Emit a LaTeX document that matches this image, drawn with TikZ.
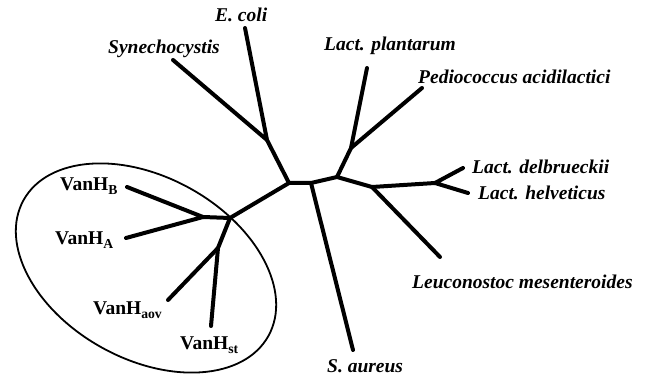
\documentclass[tikz,border=0pt]{standalone}
\usepackage{fontspec}
\setmainfont{Liberation Serif}
\usetikzlibrary{positioning}

\begin{document}
\begin{tikzpicture}[
  x=1pt, y=-1pt,
  branch/.style={line width=4pt, line cap=round, line join=round},
  taxon/.style={font=\fontsize{19.5}{22}\selectfont\bfseries\itshape,
                inner sep=0pt, anchor=base west},
  van/.style={font=\fontsize{19.5}{22}\selectfont\bfseries,
              inner sep=0pt, anchor=base west},
  group/.style={draw, line width=1.8pt},
]
\useasboundingbox (0,0) rectangle (651,379);

% ---- internal branch points --------------------------------------------
\coordinate (root)  at (289,183);
\coordinate (saur)  at (311,183);
\coordinate (lab)   at (337,177);
\coordinate (leuc)  at (372,187);
\coordinate (lact)  at (435,183);
\coordinate (pedi)  at (351,148);
\coordinate (bact)  at (267,140);
\coordinate (vanH)  at (230,218);
\coordinate (vanBA) at (203,217);
\coordinate (vanAS) at (218,248);

% ---- branch tips ---------------------------------------------------------
\coordinate (ecoli-tip) at (245,28);
\coordinate (syn-tip)   at (173,60);
\coordinate (plan-tip)  at (367,68);
\coordinate (ped-tip)   at (422,88);
\coordinate (delb-tip)  at (463,168);
\coordinate (helv-tip)  at (468,193);
\coordinate (leuc-tip)  at (440,257);
\coordinate (saur-tip)  at (353,350);
\coordinate (vB-tip)    at (127,187);
\coordinate (vA-tip)    at (126,238);
\coordinate (vaov-tip)  at (168,300);
\coordinate (vst-tip)   at (211,326);

% ---- labels --------------------------------------------------------------
\node[taxon] (ecoli) at (215,22)  {E. coli};
\node[taxon] (syn)   at (108,54)  {Synechocystis};
\node[taxon] (plan)  at (324,51)  {Lact. plantarum};
\node[taxon] (ped)   at (418,84)  {Pediococcus acidilactici};
\node[taxon] (delb)  at (472,174) {Lact. delbrueckii};
\node[taxon] (helv)  at (478,200) {Lact. helveticus};
\node[taxon] (leu)   at (412,289) {Leuconostoc mesenteroides};
\node[taxon] (sa)    at (327,373) {S. aureus};

\node[van] (vB)   at (60,191)  {VanH\textsubscript{B}};
\node[van] (vA)   at (55,245)  {VanH\textsubscript{A}};
\node[van] (vaov) at (93,315)  {VanH\textsubscript{aov}};
\node[van] (vst)  at (180,350) {VanH\textsubscript{st}};

% ---- tree branches -------------------------------------------------------
\draw[branch] (bact) -- (root) -- (saur) -- (lab) -- (leuc) -- (lact);
\draw[branch] (ecoli-tip) -- (bact) -- (syn-tip);
\draw[branch] (lab) -- (pedi) -- (plan-tip);
\draw[branch] (pedi) -- (ped-tip);
\draw[branch] (delb-tip) -- (lact) -- (helv-tip);
\draw[branch] (leuc) -- (leuc-tip);
\draw[branch] (saur) -- (saur-tip);
% VanH cluster
\draw[branch] (root) -- (vanH) -- (vanBA);
\draw[branch] (vB-tip) -- (vanBA) -- (vA-tip);
\draw[branch] (vanH) -- (vanAS) -- (vaov-tip);
\draw[branch] (vanAS) -- (vst-tip);

% ---- VanH grouping ellipse ---------------------------------------------
\draw[group] (146,268) ellipse [x radius=140, y radius=91, rotate=-29];

\end{tikzpicture}
\end{document}
